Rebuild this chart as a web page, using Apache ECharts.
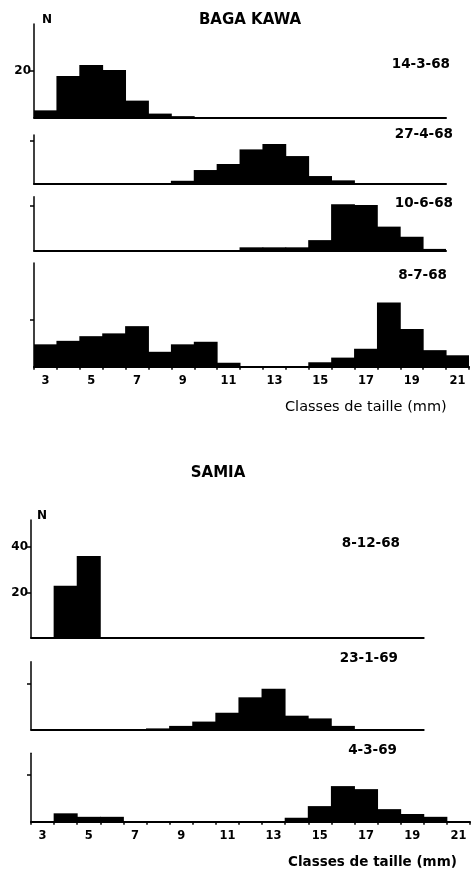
<!DOCTYPE html>
<html>
<head>
<meta charset="utf-8">
<script src="https://cdn.jsdelivr.net/npm/echarts@6/dist/echarts.min.js"></script>
<style>html,body{margin:0;padding:0;background:#fff}#c{width:471px;height:871px}</style>
</head>
<body>
<div id="c"></div>
<script>
// Size classes (mm)
const classesFull = ['3','4','5','6','7','8','9','10','11','12','13','14','15','16','17','18','19','20','21'];
const classesTo20 = classesFull.slice(0, 18);
const classesTo19 = classesFull.slice(0, 17);

// BAGA KAWA (N per class; unit tick = 20)
const baga_14_3_68 = [3, 17.8, 22.6, 20.4, 7.2, 1.6, 0.5, 0, 0, 0, 0, 0, 0, 0, 0, 0, 0, 0];
const baga_27_4_68 = [0, 0, 0, 0, 0, 0, 1.5, 6.5, 9.3, 16.1, 18.6, 13, 3.7, 1.7, 0, 0, 0, 0];
const baga_10_6_68 = [0, 0, 0, 0, 0, 0, 0, 0, 0, 1.5, 1.5, 1.5, 4.7, 20.7, 20.3, 10.7, 6.2, 0.8];
const baga_8_7_68  = [9.6, 11.1, 13.1, 14.3, 17.4, 6.4, 9.6, 10.7, 1.7, 0, 0, 0, 1.9, 3.9, 7.7, 27.6, 16.2, 7.1, 4.9];

// SAMIA
const samia_8_12_68 = [0, 22.9, 36.1, 0, 0, 0, 0, 0, 0, 0, 0, 0, 0, 0, 0, 0, 0];
const samia_23_1_69 = [0, 0, 0, 0, 0, 0.4, 1.5, 3.4, 7.3, 14.1, 17.9, 6, 4.8, 1.5, 0, 0, 0];
const samia_4_3_69  = [0, 3.6, 2.1, 2.1, 0, 0, 0, 0, 0, 0, 0, 1.7, 6.7, 15.3, 14, 5.4, 3.3, 2.1, 0];

const panels = [
  {cats: classesTo20, data: baga_14_3_68, label: '14-3-68', grid: {left: 34, top: 24, width: 412, height: 93.3}, max: 40.3, ticks: [20], tickLabels: [20], bottom: false, dx: 450, dy: 64},
  {cats: classesTo20, data: baga_27_4_68, label: '27-4-68', grid: {left: 34, top: 135, width: 412, height: 49}, max: 22.8, ticks: [20], tickLabels: [], bottom: false, dx: 453, dy: 134},
  {cats: classesTo20, data: baga_10_6_68, label: '10-6-68', grid: {left: 34, top: 196.7, width: 412, height: 54}, max: 24, ticks: [20], tickLabels: [], bottom: false, dx: 453, dy: 203},
  {cats: classesFull, data: baga_8_7_68, label: '8-7-68', grid: {left: 34, top: 263, width: 435, height: 103.7}, max: 44.5, ticks: [20], tickLabels: [], bottom: true, dx: 447, dy: 275},
  {cats: classesTo19, data: samia_8_12_68, label: '8-12-68', grid: {left: 31, top: 520, width: 392.7, height: 117.7}, max: 52, ticks: [20, 40], tickLabels: [20, 40], bottom: false, dx: 400, dy: 543},
  {cats: classesTo19, data: samia_23_1_69, label: '23-1-69', grid: {left: 31, top: 661.7, width: 392.7, height: 67.6}, max: 29.8, ticks: [20], tickLabels: [], bottom: false, dx: 398, dy: 658},
  {cats: classesFull, data: samia_4_3_69, label: '4-3-69', grid: {left: 31, top: 753.3, width: 439, height: 68.4}, max: 29.4, ticks: [20], tickLabels: [], bottom: true, dx: 397, dy: 750}
];

const ink = '#000';
const bold = 'DejaVu Sans';

const option = {
  backgroundColor: '#fff',
  animation: false,
  grid: panels.map(p => Object.assign({containLabel: false}, p.grid)),
  xAxis: panels.map((p, i) => ({
    type: 'category', gridIndex: i, data: p.cats, boundaryGap: true,
    axisLine: {show: true, lineStyle: {color: ink, width: 2}},
    axisTick: {show: p.bottom, interval: 0, length: 3, inside: false, lineStyle: {color: ink, width: 1.5}},
    axisLabel: {show: p.bottom, interval: 1, color: ink, fontFamily: bold, fontWeight: 'bold', fontSize: 11.5, margin: 8},
    splitLine: {show: false}
  })),
  yAxis: panels.map((p, i) => ({
    type: 'value', gridIndex: i, min: 0, max: p.max,
    axisLine: {show: true, lineStyle: {color: ink, width: 1.5}},
    axisTick: {show: true, customValues: p.ticks, length: 4, inside: false, lineStyle: {color: ink, width: 1.5}},
    axisLabel: {show: p.tickLabels.length > 0, customValues: p.tickLabels, color: ink, fontFamily: bold, fontWeight: 'bold', fontSize: 12, margin: 3},
    splitLine: {show: false}
  })),
  series: panels.map((p, i) => ({
    type: 'bar', xAxisIndex: i, yAxisIndex: i, data: p.data,
    barWidth: '104%', itemStyle: {color: ink, borderWidth: 0}, silent: true
  })),
  graphic: [
    {type: 'text', x: 250, y: 20, style: {text: 'BAGA KAWA', fill: ink, font: 'bold 15px "DejaVu Sans"', textAlign: 'center', textVerticalAlign: 'middle'}},
    {type: 'text', x: 47, y: 20, style: {text: 'N', fill: ink, font: 'bold 12px "DejaVu Sans"', textAlign: 'center', textVerticalAlign: 'middle'}},
    {type: 'text', x: 218, y: 473, style: {text: 'SAMIA', fill: ink, font: 'bold 15px "DejaVu Sans"', textAlign: 'center', textVerticalAlign: 'middle'}},
    {type: 'text', x: 42, y: 516, style: {text: 'N', fill: ink, font: 'bold 12px "DejaVu Sans"', textAlign: 'center', textVerticalAlign: 'middle'}},
    {type: 'text', x: 285, y: 407, style: {text: 'Classes de taille (mm)', fill: ink, font: '14.5px "DejaVu Sans"', textAlign: 'left', textVerticalAlign: 'middle'}},
    {type: 'text', x: 288, y: 862, style: {text: 'Classes de taille (mm)', fill: ink, font: 'bold 13.5px "DejaVu Sans"', textAlign: 'left', textVerticalAlign: 'middle'}}
  ].concat(panels.map(p => ({
    type: 'text', x: p.dx, y: p.dy,
    style: {text: p.label, fill: ink, font: 'bold 13.5px "DejaVu Sans"', textAlign: 'right', textVerticalAlign: 'middle'}
  })))
};

const chart = echarts.init(document.getElementById('c'), null, {renderer: 'canvas'});
chart.setOption(option);
</script>
</body>
</html>
